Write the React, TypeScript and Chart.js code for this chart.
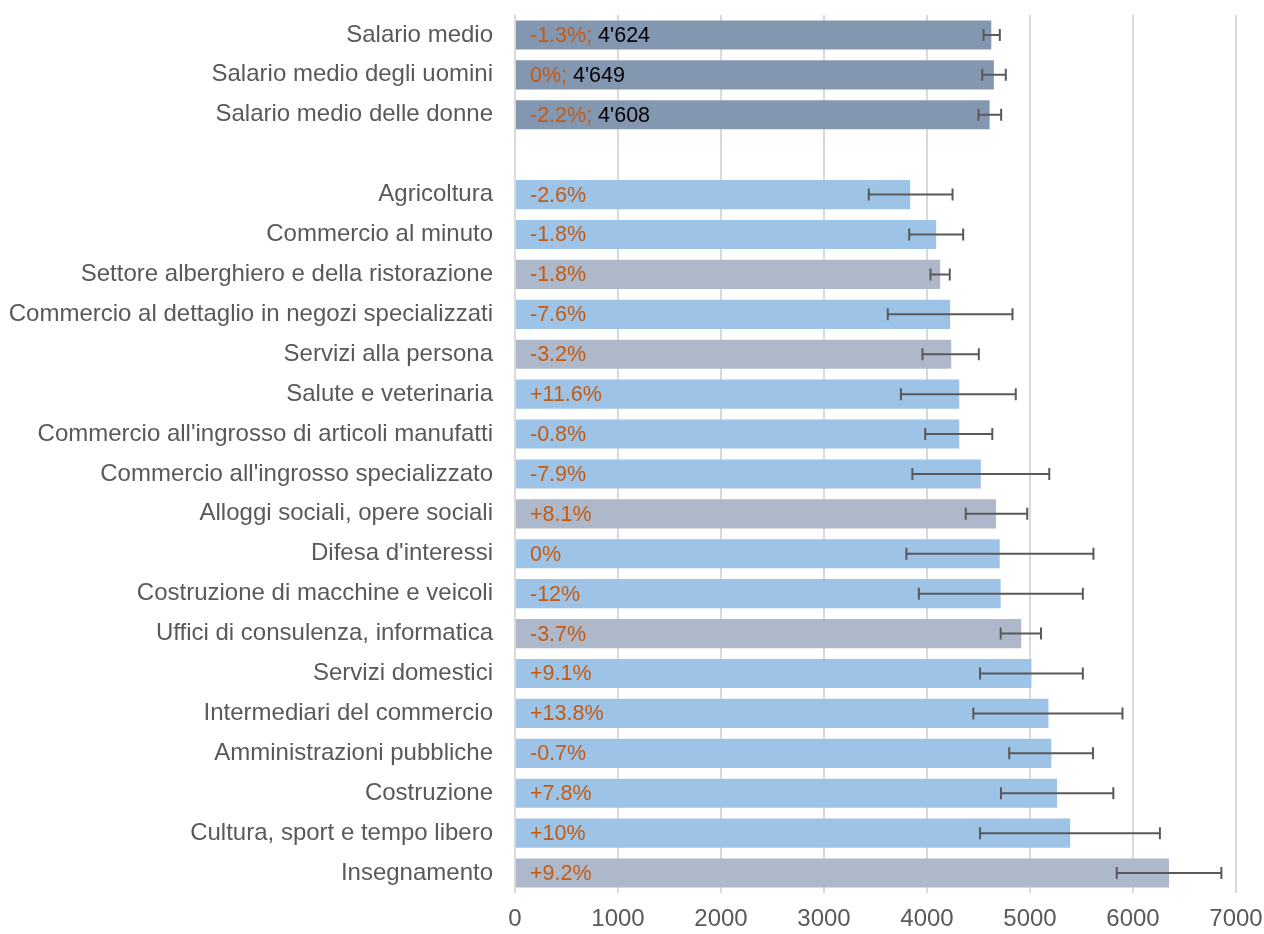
import React, { useEffect, useRef } from "react";
import { Chart, registerables } from "chart.js";

Chart.register(...registerables);

const categories = [
  "Salario medio",
  "Salario medio degli uomini",
  "Salario medio delle donne",
  "",
  "Agricoltura",
  "Commercio al minuto",
  "Settore alberghiero e della ristorazione",
  "Commercio al dettaglio in negozi specializzati",
  "Servizi alla persona",
  "Salute e veterinaria",
  "Commercio all'ingrosso di articoli manufatti",
  "Commercio all'ingrosso specializzato",
  "Alloggi sociali, opere sociali",
  "Difesa d'interessi",
  "Costruzione di macchine e veicoli",
  "Uffici di consulenza, informatica",
  "Servizi domestici",
  "Intermediari del commercio",
  "Amministrazioni pubbliche",
  "Costruzione",
  "Cultura, sport e tempo libero",
  "Insegnamento",
];

const values = [4624, 4649, 4608, null, 3837, 4089, 4128, 4225, 4235, 4313, 4313, 4523, 4670, 4706, 4715, 4915, 5014, 5179, 5207, 5263, 5390, 6350];
const errLow = [4549, 4536, 4500, null, 3435, 3827, 4034, 3619, 3956, 3747, 3983, 3858, 4376, 3800, 3921, 4715, 4515, 4450, 4798, 4718, 4515, 5842];
const errHigh = [4707, 4765, 4720, null, 4248, 4351, 4221, 4830, 4503, 4862, 4634, 5187, 4973, 5616, 5513, 5107, 5513, 5898, 5611, 5809, 6261, 6858];
const changes = ["-1.3%", "0%", "-2.2%", "", "-2.6%", "-1.8%", "-1.8%", "-7.6%", "-3.2%", "+11.6%", "-0.8%", "-7.9%", "+8.1%", "0%", "-12%", "-3.7%", "+9.1%", "+13.8%", "-0.7%", "+7.8%", "+10%", "+9.2%"];
const valueLabels = ["4'624", "4'649", "4'608", "", "", "", "", "", "", "", "", "", "", "", "", "", "", "", "", "", "", ""];
const groups = ["total", "total", "total", "", "light", "light", "gray", "light", "gray", "light", "light", "light", "gray", "light", "light", "gray", "light", "light", "light", "light", "light", "gray"];
const xTicks = [0, 1000, 2000, 3000, 4000, 5000, 6000, 7000];

const groupColors: Record<string, string> = {
  total: "#8497B0",
  light: "#9DC3E6",
  gray: "#ADB9CA",
  "": "rgba(0,0,0,0)",
};

const FONT = "'Liberation Sans', Arial, sans-serif";

const overlayPlugin = {
  id: "overlay",
  afterDatasetsDraw(chart: any) {
    const ctx = chart.ctx;
    const xs = chart.scales.x;
    const ys = chart.scales.y;
    ctx.save();
    ctx.strokeStyle = "#595959";
    ctx.lineWidth = 2;
    for (let i = 0; i < values.length; i++) {
      if (values[i] == null) continue;
      const y = ys.getPixelForValue(i);
      const x1 = xs.getPixelForValue(errLow[i]);
      const x2 = xs.getPixelForValue(errHigh[i]);
      ctx.beginPath();
      ctx.moveTo(x1, y);
      ctx.lineTo(x2, y);
      ctx.moveTo(x1, y - 6);
      ctx.lineTo(x1, y + 6);
      ctx.moveTo(x2, y - 6);
      ctx.lineTo(x2, y + 6);
      ctx.stroke();
    }
    ctx.font = `21.5px ${FONT}`;
    ctx.textBaseline = "middle";
    ctx.textAlign = "left";
    const x0 = xs.getPixelForValue(0) + 15;
    for (let i = 0; i < values.length; i++) {
      if (values[i] == null) continue;
      const y = ys.getPixelForValue(i) + 1;
      let txt = changes[i];
      if (valueLabels[i]) txt += "; ";
      ctx.fillStyle = "#C55A11";
      ctx.fillText(txt, x0, y);
      if (valueLabels[i]) {
        const w = ctx.measureText(txt).width;
        ctx.fillStyle = "#000000";
        ctx.fillText(valueLabels[i], x0 + w, y);
      }
    }
    ctx.restore();
  },
};

export default function App() {
  const ref = useRef<HTMLCanvasElement>(null);
  useEffect(() => {
    const chart = new Chart(ref.current as HTMLCanvasElement, {
      type: "bar",
      data: {
        labels: categories,
        datasets: [
          {
            data: values as any,
            backgroundColor: groups.map((g) => groupColors[g]),
            barPercentage: 0.73,
            categoryPercentage: 1,
          },
        ],
      },
      options: {
        indexAxis: "y",
        animation: false,
        responsive: false,
        maintainAspectRatio: false,
        layout: { padding: { top: 15, right: 28, bottom: 0, left: 0 } },
        plugins: {
          legend: { display: false },
          tooltip: { enabled: false },
        },
        scales: {
          x: {
            min: 0,
            max: 7000,
            afterBuildTicks(scale: any) {
              scale.ticks = xTicks.map((v) => ({ value: v }));
            },
            afterFit(scale: any) {
              scale.height = 41;
              scale.paddingLeft = 0;
              scale.paddingRight = 0;
              scale.paddingTop = 0;
              scale.paddingBottom = 0;
            },
            grid: { color: "#D9D9D9", lineWidth: 2, drawTicks: false },
            border: { display: false },
            ticks: {
              color: "#595959",
              font: { family: FONT, size: 24 },
              padding: 12,
              maxRotation: 0,
              callback: (v: any) => String(v),
            },
          },
          y: {
            afterFit(scale: any) {
              scale.width = 515;
              scale.paddingLeft = 0;
              scale.paddingRight = 0;
              scale.paddingTop = 0;
              scale.paddingBottom = 0;
            },
            grid: { display: false, drawTicks: false },
            border: { display: false },
            ticks: {
              color: "#595959",
              font: { family: FONT, size: 24 },
              padding: 22,
              autoSkip: false,
            },
          },
        },
      },
      plugins: [overlayPlugin],
    });
    return () => chart.destroy();
  }, []);
  return (
    <div style={{ position: "fixed", left: 0, top: 0, width: 1264, height: 934, background: "#fff" }}>
      <canvas ref={ref} width={1264} height={934} style={{ display: "block" }} />
    </div>
  );
}
